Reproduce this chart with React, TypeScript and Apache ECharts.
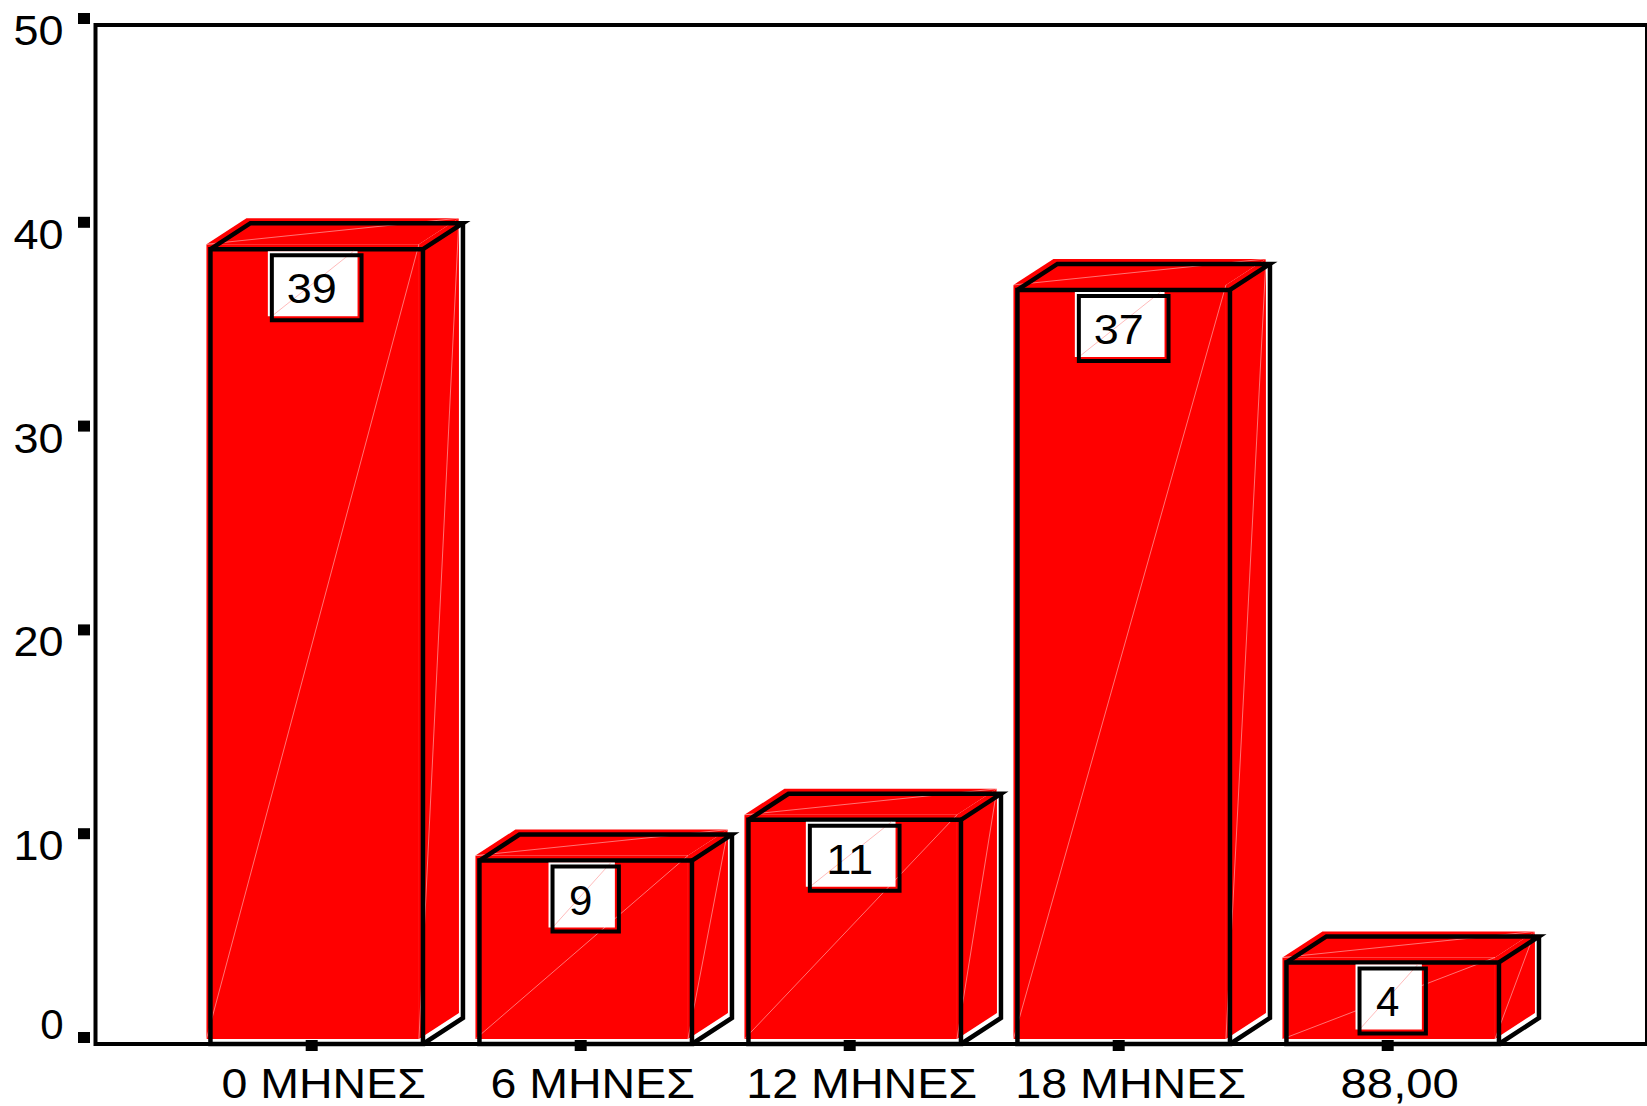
import React, { useEffect, useRef } from "react";
import * as echarts from "echarts";

const categories = ["0 ΜΗΝΕΣ", "6 ΜΗΝΕΣ", "12 ΜΗΝΕΣ", "18 ΜΗΝΕΣ", "88,00"];
const counts = [39, 9, 11, 37, 4];
const yTicks = [0, 10, 20, 30, 40, 50];

const FONT = "'Liberation Sans', Arial, Helvetica, sans-serif";
const RED = "#ff0000";
const DX = 40;
const DY = -26;
const OX = -4;
const OY = -5;
const TRACK = 3.3;

let measureCtx: CanvasRenderingContext2D | null = null;
function spacedScale(text: string, size: number) {
  if (!measureCtx) measureCtx = document.createElement("canvas").getContext("2d");
  if (!measureCtx) return 1;
  measureCtx.font = `${size}px ${FONT}`;
  const w = measureCtx.measureText(text).width;
  if (!w) return 1;
  return (w + TRACK * (text.length - 1)) / w;
}

export default function App() {
  const ref = useRef<HTMLDivElement>(null);

  useEffect(() => {
    const chart = echarts.init(ref.current!, null, { renderer: "svg" });

    const off = (pts: number[][]) => pts.map(([x, y]) => [x + OX, y + OY]);

    const barItem = (params: any, api: any) => {
      const idx = api.value(0);
      const val = api.value(1);
      const base = api.coord([idx, 0]);
      const top = api.coord([idx, val]);
      const band = api.coord([1, 0])[0] - api.coord([0, 0])[0];
      const w = band * 0.79;
      const cx = base[0];
      const L = cx - w / 2;
      const R = cx + w / 2;
      const T = top[1];
      const B = base[1];
      const front = [[L, T], [R, T], [R, B], [L, B]];
      const topFace = [[L, T], [L + DX, T + DY], [R + DX, T + DY], [R, T]];
      const side = [[R, T], [R + DX, T + DY], [R + DX, B + DY], [R, B]];
      const faint = "rgba(255,255,255,0.45)";
      const label = String(val);
      const bw = label.length * 23.35 + 43;
      const bh = 65;
      const bx = cx - bw / 2;
      const by = T + 6;
      const cat = categories[idx];
      const children: any[] = [
        { type: "polygon", shape: { points: off(front) }, style: { fill: RED } },
        { type: "polygon", shape: { points: off(topFace) }, style: { fill: RED } },
        { type: "polygon", shape: { points: off(side) }, style: { fill: RED } },
        { type: "line", shape: { x1: L + OX, y1: B + OY, x2: R + OX, y2: T + OY }, style: { stroke: faint, lineWidth: 1 } },
        { type: "line", shape: { x1: L + OX, y1: T + OY, x2: R + DX + OX, y2: T + DY + OY }, style: { stroke: faint, lineWidth: 1 } },
        { type: "line", shape: { x1: R + OX, y1: B + OY, x2: R + DX + OX, y2: T + DY + OY }, style: { stroke: faint, lineWidth: 1 } },
        { type: "polygon", shape: { points: front }, style: { fill: "none", stroke: "#000", lineWidth: 4.5, lineJoin: "miter" } },
        { type: "polyline", shape: { points: topFace }, style: { fill: "none", stroke: "#000", lineWidth: 4.5, lineJoin: "miter" } },
        { type: "polyline", shape: { points: [[R + DX, T + DY], [R + DX, B + DY], [R, B]] }, style: { fill: "none", stroke: "#000", lineWidth: 4.5, lineJoin: "miter" } },
        { type: "rect", shape: { x: bx - 4, y: by - 4, width: bw, height: bh }, style: { fill: "#fff" } },
        { type: "line", shape: { x1: bx, y1: by + bh - 4, x2: bx + bw - 8, y2: by - 4 }, style: { stroke: "rgba(255,120,120,0.5)", lineWidth: 1 } },
        { type: "rect", shape: { x: bx, y: by, width: bw, height: bh }, style: { fill: "none", stroke: "#000", lineWidth: 4 } },
        {
          type: "text",
          x: cx - 5,
          y: by + bh / 2 + 1,
          scaleX: spacedScale(label, 42),
          style: {
            text: label,
            fontFamily: FONT,
            fontSize: 42,
            fill: "#000",
            align: "center",
            verticalAlign: "middle",
          },
        },
        { type: "rect", shape: { x: cx - 11, y: B - 4, width: 12, height: 11 }, style: { fill: "#000" } },
        {
          type: "text",
          x: cx + 7,
          y: B + 39,
          scaleX: spacedScale(cat, 42),
          style: {
            text: cat,
            fontFamily: FONT,
            fontSize: 42,
            lineHeight: 36,
            fill: "#000",
            align: "center",
            verticalAlign: "middle",
          },
        },
      ];
      return { type: "group", children };
    };

    const tickItem = (params: any, api: any) => {
      const v = api.value(1);
      const p = api.coord([0, v]);
      const label = String(v);
      return {
        type: "group",
        children: [
          {
            type: "rect",
            shape: { x: p[0] - 17.5, y: p[1] - 12, width: 12, height: 11 },
            style: { fill: "#000" },
          },
          {
            type: "text",
            x: p[0] - 32,
            y: v === 0 ? p[1] - 19.5 : p[1] + 5.5,
            scaleX: spacedScale(label, 42),
            style: {
              text: label,
              fontFamily: FONT,
              fontSize: 42,
              lineHeight: 36,
              fill: "#000",
              align: "right",
              verticalAlign: "middle",
            },
          },
        ],
      };
    };

    const option: any = {
      animation: false,
      backgroundColor: "#ffffff",
      grid: [
        {
          left: 95.5,
          top: 25,
          width: 1620,
          bottom: 62,
          show: true,
          borderColor: "#000",
          borderWidth: 4,
          backgroundColor: "transparent",
        },
        { left: 182.2, top: 25, width: 1345, bottom: 62 },
      ],
      xAxis: [
        { gridIndex: 0, type: "value", min: 0, max: 1, show: false },
        {
          gridIndex: 1,
          type: "category",
          data: categories,
          axisLine: { show: false },
          axisTick: { show: false },
          splitLine: { show: false },
          axisLabel: { show: false },
        },
      ],
      yAxis: [
        {
          gridIndex: 0,
          type: "value",
          min: 0,
          max: 50,
          interval: 10,
          axisLine: { show: false },
          axisTick: { show: false },
          splitLine: { show: false },
          axisLabel: { show: false },
        },
        { gridIndex: 1, type: "value", min: 0, max: 50, interval: 10, show: false },
      ],
      series: [
        {
          type: "custom",
          xAxisIndex: 0,
          yAxisIndex: 0,
          clip: false,
          renderItem: tickItem,
          data: yTicks.map((v) => [0, v]),
        },
        {
          type: "custom",
          xAxisIndex: 1,
          yAxisIndex: 1,
          clip: false,
          renderItem: barItem,
          data: counts.map((v, i) => [i, v]),
        },
      ],
    };

    chart.setOption(option);
    return () => chart.dispose();
  }, []);

  return (
    <div
      ref={ref}
      style={{ position: "absolute", left: 0, top: 0, width: 1647, height: 1106, background: "#fff" }}
    />
  );
}
